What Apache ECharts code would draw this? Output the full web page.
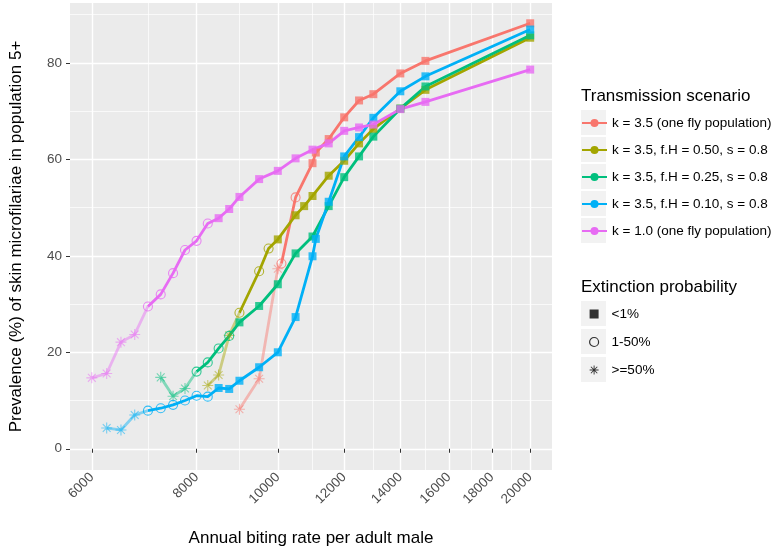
<!DOCTYPE html>
<html><head><meta charset="utf-8">
<script src="https://cdn.jsdelivr.net/npm/echarts@6/dist/echarts.min.js"></script>
<style>html,body{margin:0;padding:0;background:#fff}#c{width:777px;height:558px}</style>
</head><body><div id="c"></div>
<script>
// ---------- data ----------
const scenarioNames = [
  'k = 3.5 (one fly population)',
  'k = 3.5, f.H = 0.50, s = 0.8',
  'k = 3.5, f.H = 0.25, s = 0.8',
  'k = 3.5, f.H = 0.10, s = 0.8',
  'k = 1.0 (one fly population)'
];
const extinctionLabels = ['<1%', '1-50%', '>=50%'];
const xTicks = [6000, 8000, 10000, 12000, 14000, 16000, 18000, 20000];
const xMinorTicks = [7000, 9000, 11000, 13000, 15000, 17000, 19000];
const yTicks = [0, 20, 40, 60, 80];
const yMinorTicks = [10, 30, 50, 70, 90];

// extinction code: 0 = <1%, 1 = 1-50%, 2 = >=50%
const redX = [9000, 9500, 10000, 10100, 10500, 11000, 11100, 11500, 12000, 12500, 13000, 14000, 15000, 20000];
const redY = [8.2, 14.5, 37.3, 38.4, 52.1, 59.2, 61.4, 64.2, 68.7, 72.2, 73.5, 77.8, 80.4, 88.2];
const redExt = [2, 2, 2, 1, 1, 0, 0, 0, 0, 0, 0, 0, 0, 0];

const oliveX = [8250, 8500, 8750, 9000, 9500, 9750, 10000, 10500, 10750, 11000, 11500, 12000, 12500, 13000, 14000, 15000, 20000];
const oliveY = [13.1, 15.3, 23.5, 28.2, 36.8, 41.5, 43.4, 48.4, 50.3, 52.4, 56.6, 59.7, 63.3, 66.3, 70.5, 74.4, 85.2];
const oliveExt = [2, 2, 2, 1, 1, 1, 0, 0, 0, 0, 0, 0, 0, 0, 0, 0, 0];

const greenX = [7250, 7500, 7750, 8000, 8250, 8500, 8750, 9000, 9500, 10000, 10500, 11000, 11500, 12000, 12500, 13000, 14000, 15000, 20000];
const greenY = [14.8, 10.9, 12.5, 16.0, 17.9, 20.8, 23.4, 26.2, 29.6, 34.1, 40.5, 44.0, 50.3, 56.3, 60.6, 64.7, 70.5, 75.1, 85.7];
const greenExt = [2, 2, 2, 1, 1, 1, 1, 0, 0, 0, 0, 0, 0, 0, 0, 0, 0, 0, 0];

const blueX = [6250, 6500, 6750, 7000, 7250, 7500, 7750, 8000, 8250, 8500, 8750, 9000, 9500, 10000, 10500, 11000, 11100, 11500, 12000, 12500, 13000, 14000, 15000, 20000];
const blueY = [4.3, 3.9, 7.0, 7.9, 8.4, 9.1, 10.0, 11.0, 10.8, 12.6, 12.4, 14.1, 16.9, 20.0, 27.3, 39.9, 43.5, 51.2, 60.6, 64.6, 68.6, 74.1, 77.2, 86.9];
const blueExt = [2, 2, 2, 1, 1, 1, 1, 1, 1, 0, 0, 0, 0, 0, 0, 0, 0, 0, 0, 0, 0, 0, 0, 0];

const pinkX = [6000, 6250, 6500, 6750, 7000, 7250, 7500, 7750, 8000, 8250, 8500, 8750, 9000, 9500, 10000, 10500, 11000, 11500, 12000, 12500, 13000, 14000, 15000, 20000];
const pinkY = [14.7, 15.6, 22.1, 23.7, 29.5, 32.0, 36.4, 41.2, 43.1, 46.7, 47.8, 49.7, 52.2, 55.9, 57.6, 60.2, 62.0, 63.3, 65.9, 66.6, 67.2, 70.4, 71.9, 78.6];
const pinkExt = [2, 2, 2, 2, 1, 1, 1, 1, 1, 1, 0, 0, 0, 0, 0, 0, 0, 0, 0, 0, 0, 0, 0, 0];

// ---------- styling ----------
const colors = ['#F8766D', '#A3A500', '#00BF7D', '#00B0F6', '#E76BF3'];
const FONT = '"Liberation Sans", Arial, Helvetica, sans-serif';
const STAR = 'path://M9 0L11 0L11 20L9 20Z M0 9L20 9L20 11L0 11Z M3.6 2.2L17.8 16.4L16.4 17.8L2.2 3.6Z M16.4 2.2L17.8 3.6L3.6 17.8L2.2 16.4Z';
const LINE_W = 2.8;

const groups = [
  [redX, redY, redExt],
  [oliveX, oliveY, oliveExt],
  [greenX, greenY, greenExt],
  [blueX, blueY, blueExt],
  [pinkX, pinkY, pinkExt]
];

function markerItem(x, y, e, color) {
  if (e === 0) return { value: [x, y], symbol: 'rect', symbolSize: 8, itemStyle: { color: color } };
  if (e === 1) return { value: [x, y], symbol: 'circle', symbolSize: 9,
    itemStyle: { color: 'rgba(0,0,0,0)', borderColor: color, borderWidth: 1.1 } };
  return { value: [x, y], symbol: STAR, symbolSize: 11, itemStyle: { color: color, opacity: 0.5 } };
}

const lineSeries = [];
const pointSeries = [];
groups.forEach(function (g, si) {
  const xs = g[0], ys = g[1], ext = g[2];
  const color = colors[si];
  const pts = xs.map(function (x, i) { return [x, ys[i]]; });
  let k = ext.findIndex(function (e) { return e < 2; });
  if (k < 0) k = pts.length - 1;
  if (k > 0) {
    lineSeries.push({
      type: 'line', name: scenarioNames[si] + ' faded', data: pts.slice(0, k + 1),
      showSymbol: false, symbol: 'none', silent: true, z: 2,
      lineStyle: { color: color, width: LINE_W, opacity: 0.45 },
      itemStyle: { color: color }
    });
  }
  lineSeries.push({
    type: 'line', name: scenarioNames[si], data: pts.slice(k),
    symbol: 'circle', showSymbol: false, z: 2,
    lineStyle: { color: color, width: LINE_W },
    itemStyle: { color: color }
  });
  pointSeries.push({
    type: 'scatter', name: scenarioNames[si] + ' points', z: 3,
    data: xs.map(function (x, i) { return markerItem(x, ys[i], ext[i], color); }),
    itemStyle: { color: color }
  });
});

const legendSeries = [
  { type: 'scatter', name: extinctionLabels[0], data: [], symbol: 'rect', itemStyle: { color: '#000' } },
  { type: 'scatter', name: extinctionLabels[1], data: [], symbol: 'circle', itemStyle: { color: '#000' } },
  { type: 'scatter', name: extinctionLabels[2], data: [], symbol: STAR, itemStyle: { color: '#000' } }
];

const xMin = 5651, xMax = 21235, yMin = -4.4, yMax = 92.4;

function keyBoxes(tops) {
  return tops.map(function (t) {
    return { type: 'rect', left: 581, top: t, shape: { width: 25, height: 25 }, style: { fill: '#F2F2F2' }, z: -1 };
  });
}

const chart = echarts.init(document.getElementById('c'), null, { renderer: 'canvas' });
chart.setOption({
  animation: false,
  backgroundColor: '#fff',
  textStyle: { fontFamily: FONT },
  grid: { left: 66, right: 225, top: 3, bottom: 88, show: true, backgroundColor: '#EBEBEB', borderWidth: 0 },
  xAxis: [
    {
      type: 'log', logBase: 10, min: xMin, max: xMax,
      name: 'Annual biting rate per adult male', nameLocation: 'middle', nameGap: 60,
      nameTextStyle: { fontSize: 17, color: '#000', fontFamily: FONT },
      axisLine: { show: false },
      axisTick: { show: true, customValues: xTicks, length: 4, lineStyle: { color: '#333', width: 1 } },
      axisLabel: { show: true, customValues: xTicks, rotate: 45, margin: 5, fontSize: 13.5, color: '#4D4D4D', fontFamily: FONT,
        formatter: function (v) { return String(Math.round(v)); } },
      splitLine: { show: true, lineStyle: { color: '#fff', width: 1.4 } },
      z: 1
    },
    {
      type: 'log', logBase: 10, min: xMin, max: xMax, position: 'bottom',
      axisLine: { show: false },
      axisTick: { show: false, customValues: xMinorTicks },
      axisLabel: { show: false, customValues: xMinorTicks },
      splitLine: { show: true, lineStyle: { color: '#fff', width: 0.7 } }
    }
  ],
  yAxis: [
    {
      type: 'value', min: yMin, max: yMax,
      name: 'Prevalence (%) of skin microfilariae in population 5+', nameLocation: 'middle', nameGap: 45,
      nameTextStyle: { fontSize: 17, color: '#000', fontFamily: FONT },
      axisLine: { show: false },
      axisTick: { show: true, customValues: yTicks, length: 4, lineStyle: { color: '#333', width: 1 } },
      axisLabel: { show: true, customValues: yTicks, margin: 8, fontSize: 13.5, color: '#4D4D4D', fontFamily: FONT },
      splitLine: { show: true, lineStyle: { color: '#fff', width: 1.4 } }
    },
    {
      type: 'value', min: yMin, max: yMax, position: 'left',
      axisLine: { show: false },
      axisTick: { show: false, customValues: yMinorTicks },
      axisLabel: { show: false, customValues: yMinorTicks },
      splitLine: { show: true, lineStyle: { color: '#fff', width: 0.7 } }
    }
  ],
  title: [
    { text: 'Transmission scenario', left: 581, top: 88, padding: 0, textStyle: { fontSize: 17, fontWeight: 'normal', color: '#000', fontFamily: FONT } },
    { text: 'Extinction probability', left: 581, top: 279, padding: 0, textStyle: { fontSize: 17, fontWeight: 'normal', color: '#000', fontFamily: FONT } }
  ],
  legend: [
    {
      orient: 'vertical', left: 581, top: 115.5, itemWidth: 25, itemHeight: 10, itemGap: 12,
      padding: 0, selectedMode: false,
      data: scenarioNames,
      textStyle: { fontSize: 13.5, color: '#000', lineHeight: 15, fontFamily: FONT }
    },
    {
      orient: 'vertical', left: 589, top: 306.5, itemWidth: 9, itemHeight: 9, itemGap: 13,
      padding: 0, selectedMode: false,
      data: [
        { name: extinctionLabels[0], icon: 'rect' },
        { name: extinctionLabels[1], icon: 'circle', itemStyle: { color: 'rgba(0,0,0,0)', borderColor: '#000', borderWidth: 1.2 } },
        { name: extinctionLabels[2], icon: STAR }
      ],
      textStyle: { fontSize: 13.5, color: '#000', lineHeight: 15, padding: [0, 0, 0, 8], fontFamily: FONT }
    }
  ],
  graphic: keyBoxes([110, 137, 164, 191, 218, 301, 329, 357]),
  series: lineSeries.concat(pointSeries).concat(legendSeries)
});
</script>
</body></html>
